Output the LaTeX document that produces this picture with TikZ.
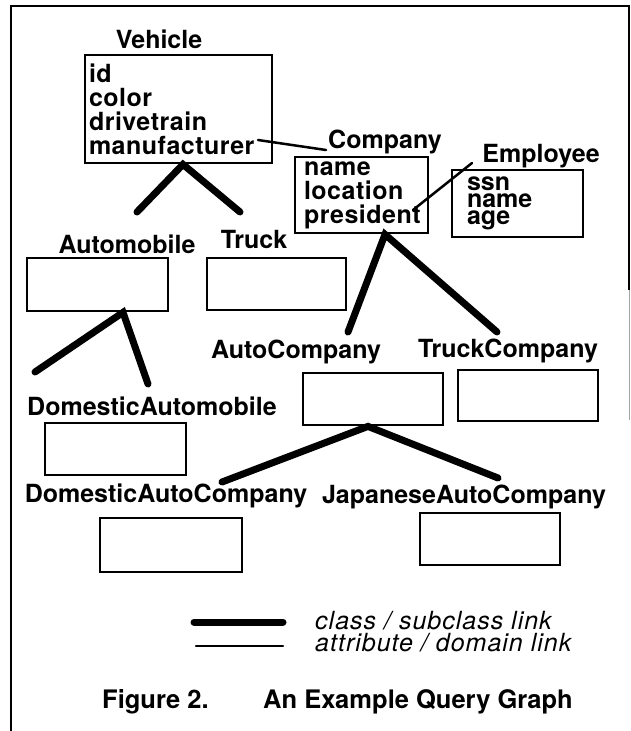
\documentclass[tikz,border=0pt]{standalone}
\usepackage{fontspec}
\setmainfont{TeX Gyre Heros}
\usetikzlibrary{calc}
\newcommand\lblfont{\fontsize{25}{25}\selectfont\bfseries}
\newcommand\attrfont{\fontsize{25}{24}\selectfont\bfseries\addfontfeature{LetterSpace=2}}
\newcommand\empfont{\fontsize{25}{17}\selectfont\bfseries}
\newcommand\legfont{\fontsize{25}{22}\selectfont\itshape\addfontfeature{LetterSpace=4}}
\begin{document}
\begin{tikzpicture}[x=1pt,y=-1pt,
  lbl/.style={font=\lblfont, inner sep=0pt, anchor=base},
  box/.style={draw, line width=2.8pt, inner sep=0pt},
  cls/.style={line width=7pt, line cap=round},
  attr/.style={line width=2.5pt, line cap=round},
  frame/.style={line width=2.5pt}]
\useasboundingbox (0,0) rectangle (630,731);
% frame
\coordinate (fbl) at (11,731);
\coordinate (ftl) at (11,6);
\coordinate (ftr) at (629,6);
\coordinate (fbr) at (629,290);
\coordinate (fbr2) at (629,420);
\draw[frame] (fbl) -- (ftl) -- (ftr) -- (fbr);
\draw[line width=1pt, black!35] (fbr) -- (fbr2);

% labels
\node[lbl] (vehL) at (159,48) {Vehicle};
\node[lbl] (compL) at (385,148) {Company};
\node[lbl] (empL) at (541,162) {Employee};
\node[lbl] (autoL) at (127,253) {Automobile};
\node[lbl] (truckL) at (254,248) {Truck};
\node[lbl] (domautoL) at (152,415) {DomesticAutomobile};
\node[lbl] (autocoL) at (296,358) {AutoCompany};
\node[lbl] (truckcoL) at (508,357) {TruckCompany};
\node[lbl] (domautocoL) at (166,502) {DomesticAutoCompany};
\node[lbl] (japcoL) at (464,503) {JapaneseAutoCompany};

% boxes with attributes
\node[box, minimum width=187, minimum height=108, text width=179, inner xsep=4, align=left, font=\attrfont]
  (veh) at (178.5,109) {id\\color\\drivetrain\\manufacturer};
\node[box, minimum width=133, minimum height=76, text width=115, inner xsep=9, align=left, font=\attrfont]
  (comp) at (361.5,195) {name\\location\\president};
\node[box, minimum width=131, minimum height=67, text width=101, inner xsep=15, align=left, font=\empfont]
  (emp) at (517.5,203.5) {ssn\\name\\age};
% empty boxes
\node[box, minimum width=141, minimum height=53] (auto) at (97.5,284.5) {};
\node[box, minimum width=139, minimum height=52] (truck) at (276.5,284) {};
\node[box, minimum width=141, minimum height=52] (domauto) at (115.5,449) {};
\node[box, minimum width=140, minimum height=52] (autoco) at (373,399) {};
\node[box, minimum width=140, minimum height=51] (truckco) at (528,395.5) {};
\node[box, minimum width=142, minimum height=54] (domautoco) at (171,545) {};
\node[box, minimum width=140, minimum height=52] (japco) at (490,539) {};

% class / subclass links
\coordinate (vehA) at ([xshift=4.5]veh.south);
\coordinate (vehE1) at (137,212);
\coordinate (vehE2) at (240,212);
\draw[cls] (vehE1) -- (vehA) -- (vehE2);
\coordinate (autoA) at ([xshift=25.5]auto.south);
\coordinate (autoE1) at (35,372);
\coordinate (autoE2) at (148,384);
\draw[cls] (autoE1) -- (autoA) -- (autoE2);
\coordinate (compA) at ([xshift=23.5]comp.south);
\coordinate (compE1) at (348,332);
\coordinate (compE2) at (497,332);
\draw[cls] (compE1) -- (compA) -- (compE2);
\coordinate (autocoA) at ([xshift=-5]autoco.south);
\coordinate (autocoE1) at (222,482);
\coordinate (autocoE2) at (498,478);
\draw[cls] (autocoE1) -- (autocoA) -- (autocoE2);

% attribute / domain links
\coordinate (manuf) at (258,140);
\draw[attr] (manuf) -- ([xshift=-2,yshift=-2]compL.base west);
\coordinate (pres) at (413,210);
\coordinate (presE) at (472,163);
\draw[attr] (pres) -- (presE);

% legend
\coordinate (l1a) at (194,622);
\coordinate (l1b) at (283,622);
\draw[cls] (l1a) -- (l1b);
\coordinate (l2a) at (196,646);
\coordinate (l2b) at (283,646);
\draw[attr] (l2a) -- (l2b);
\node[font=\legfont, inner sep=0pt, anchor=base west] (leg1) at (315,629) {class / subclass link};
\node[font=\legfont, inner sep=0pt, anchor=base west] (leg2) at (315,651) {attribute / domain link};

% caption
\node[font=\fontsize{25.5}{26}\selectfont\bfseries, inner sep=0pt, anchor=base west] (fig) at (102,708) {Figure 2.};
\node[font=\fontsize{25.5}{26}\selectfont\bfseries, inner sep=0pt, anchor=base west] (cap) at (263,708) {An Example Query Graph};
\end{tikzpicture}
\end{document}
